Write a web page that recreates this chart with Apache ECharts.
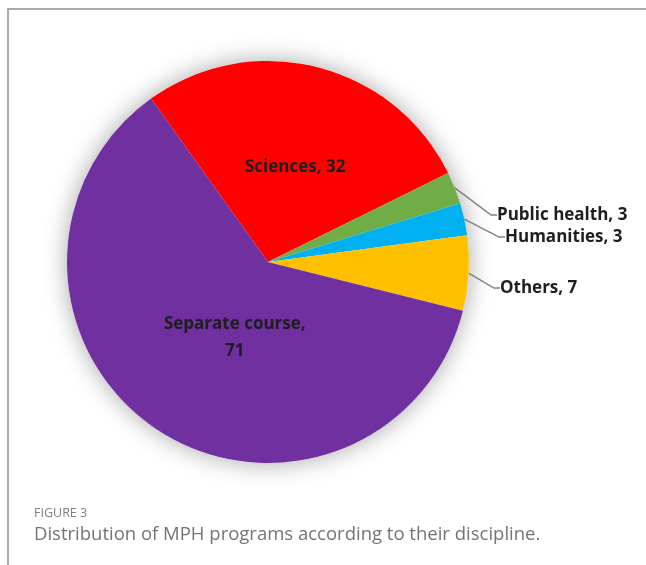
<!DOCTYPE html>
<html lang="en">
<head>
    <meta charset="UTF-8">
    <title>MPH programs by discipline</title>
    <style>
        html, body { margin: 0; padding: 0; background: #fff; }
        #chart { width: 646px; height: 565px; }
    </style>
</head>
<body>
<div id="chart"></div>
<script src="https://cdn.jsdelivr.net/npm/echarts@6/dist/echarts.min.js"></script>
<script>
    // slices, clockwise starting with Sciences
    var categories = ['Sciences', 'Public health', 'Humanities', 'Others', 'Separate course'];
    var counts = [32, 3, 3, 7, 71];
    var colors = ['#ff0000', '#70ad47', '#00b0f0', '#ffc000', '#7030a0'];
    var insideNames = ['Sciences', 'Separate course'];

    // where the outside labels sit (left edge, middle)
    var outsideLabelPos = {
        'Public health': [497, 215],
        'Humanities': [505, 237],
        'Others': [500, 288]
    };
    // small nudges for the labels drawn inside the slices
    var insideOffset = {
        'Sciences': [2, 6],
        'Separate course': [25, -10]
    };

    var chart = echarts.init(document.getElementById('chart'));

    var pieData = [];
    for (var i = 0; i < categories.length; i++) {
        var inside = insideNames.indexOf(categories[i]) >= 0;
        pieData.push({
            name: categories[i],
            value: counts[i],
            itemStyle: { color: colors[i] },
            label: inside ? {
                position: 'inner',
                offset: insideOffset[categories[i]],
                formatter: categories[i] === 'Separate course' ? '{b},\n{c}' : '{b}, {c}'
            } : {
                position: 'outside',
                formatter: '{b}, {c}'
            },
            labelLine: { show: !inside }
        });
    }

    chart.setOption({
        animation: false,
        graphic: [
            {
                type: 'polyline',
                shape: { points: [[8, 565], [8, 9], [646, 9]] },
                style: { stroke: '#8e8e8e', lineWidth: 1.5, fill: null }
            },
            {
                type: 'text',
                left: 34, top: 507,
                style: { text: 'FIGURE 3', fill: '#808080', font: '12.5px "Open Sans"' }
            },
            {
                type: 'text',
                left: 34, top: 525,
                style: {
                    text: 'Distribution of MPH programs according to their discipline.',
                    fill: '#747474', font: '18.5px "Open Sans"'
                }
            }
        ],
        series: [
            {
                // soft shadow round the whole pie
                type: 'pie',
                silent: true,
                center: [268, 262],
                radius: 201,
                label: { show: false },
                labelLine: { show: false },
                itemStyle: {
                    color: '#ffffff',
                    shadowBlur: 24,
                    shadowColor: 'rgba(0, 0, 0, 0.35)'
                },
                data: [{ name: 'shadow', value: 1 }],
                z: 1
            },
            {
                type: 'pie',
                center: [268, 262],
                radius: 201,
                startAngle: 125.6,
                clockwise: true,
                z: 2,
                label: {
                    color: '#1e1e1e',
                    fontFamily: 'Open Sans',
                    fontWeight: 'bold',
                    fontSize: 17,
                    lineHeight: 27
                },
                labelLine: {
                    lineStyle: { color: '#7f7f7f', width: 1.4 },
                    length: 30,
                    length2: 6
                },
                labelLayout: function (params) {
                    var p = outsideLabelPos[categories[params.dataIndex]];
                    if (!p) return {};
                    return { x: p[0], y: p[1], align: 'left', verticalAlign: 'middle' };
                },
                data: pieData
            }
        ]
    });
</script>
</body>
</html>
